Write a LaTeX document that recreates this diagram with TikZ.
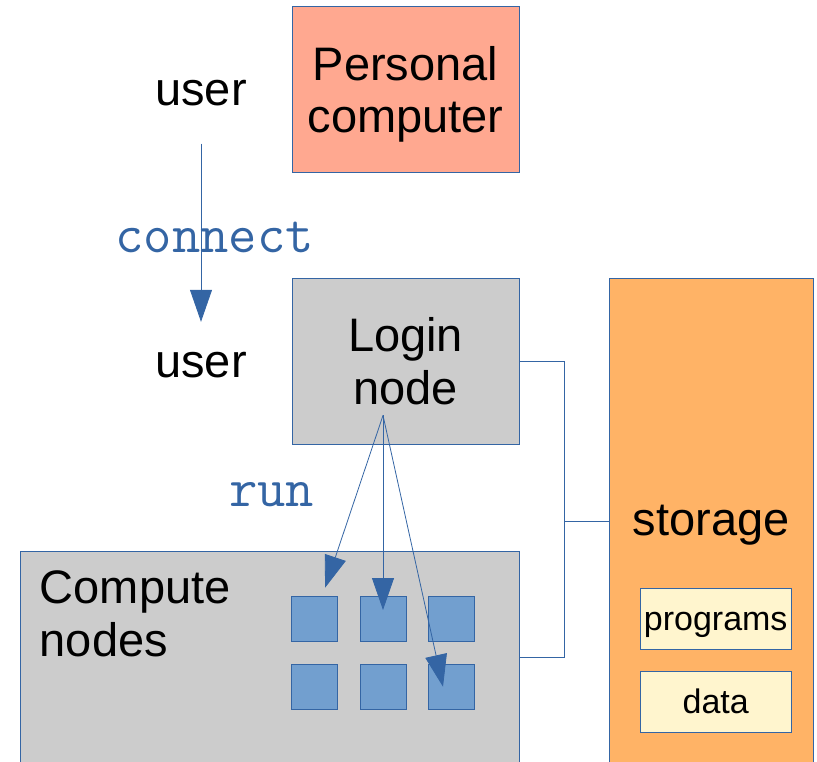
\documentclass[tikz,border=0pt]{standalone}
\usepackage{fontspec}
\setmainfont{Liberation Sans}
\usepackage{xcolor}
\usetikzlibrary{arrows.meta,positioning,calc}

\definecolor{lineblue}{HTML}{3465A4}
\definecolor{cellblue}{HTML}{729FCF}
\definecolor{pcred}{HTML}{FFA890}
\definecolor{boxgray}{HTML}{CCCCCC}
\definecolor{storeorange}{HTML}{FFB366}
\definecolor{fileyellow}{HTML}{FFF5CE}

\begin{document}
\begin{tikzpicture}[
  x=1pt, y=-1pt,
  every node/.style={font=\fontsize{47}{52.5}\selectfont, inner sep=0pt},
  machine/.style={draw=lineblue, line width=0.8pt, align=center, fill=boxgray},
  filebox/.style={draw=lineblue, line width=0.8pt, fill=fileyellow, minimum width=151pt, minimum height=60.7pt, text height=24pt, text depth=1pt, font=\fontsize{34}{38}\selectfont},
  cell/.style={draw=lineblue, line width=0.8pt, fill=cellblue, minimum width=46pt, minimum height=45.5pt},
  cmd/.style={font=\fontsize{55}{60}\ttfamily, text=lineblue},
  arr/.style={-{Triangle[length=32pt,width=22pt]}, lineblue, line width=0.8pt},
  link/.style={lineblue, line width=0.8pt}
]
\useasboundingbox (0,0) rectangle (817,761);

\node[machine, fill=pcred, minimum width=227pt, minimum height=166.5pt, text depth=-6pt] (pc) at (405.5,89.5) {Personal\\computer};
\node[machine, minimum width=227pt, minimum height=166pt] (login) at (405.5,361) {Login\\node};
\node[machine, fill=storeorange, minimum width=204pt, minimum height=486pt, text depth=2pt] (storage) at (711.3,521) {storage};
\node[filebox] (programs) at (715.7,618.7) {programs};
\node[filebox] (data) at (715.7,702) {data};
\node[machine, minimum width=499pt, minimum height=213pt] (compute) at (269.5,657.5) {};
\node[anchor=north west, align=left] (computelabel) at ($(compute.north west)+(20,20)$) {Compute\\nodes};

\foreach \r/\y in {1/618.7, 2/686.7}
  \foreach \c/\x in {1/314.7, 2/383, 3/451}
    \node[cell] (c\r\c) at (\x,\y) {};

\node[anchor=base] (user1) at (201,105) {user};
\node[anchor=base] (user2) at (201,377.3) {user};
\node[cmd, anchor=base] (connect) at (214.7,252.7) {connect};
\node[cmd, anchor=base] (run) at (271.7,506.7) {run};

\coordinate (fork) at ($(login.south)+(-22.5,-29)$);
\coordinate (bus) at (564.3,521);

\draw[arr, shorten <=38pt, shorten >=30pt] (user1.south) -- (user2.north);
\draw[arr, shorten >=32.7pt] (fork) -- (c11.center);
\draw[arr, shorten >=8.7pt] (fork) -- (c12.center);
\draw[arr] (fork) -- ($(c23.center)+(-8,0)$);

\draw[link] (login.east) -| (bus) |- (compute.east);
\draw[link] (bus) -- (storage.west);
\end{tikzpicture}
\end{document}
